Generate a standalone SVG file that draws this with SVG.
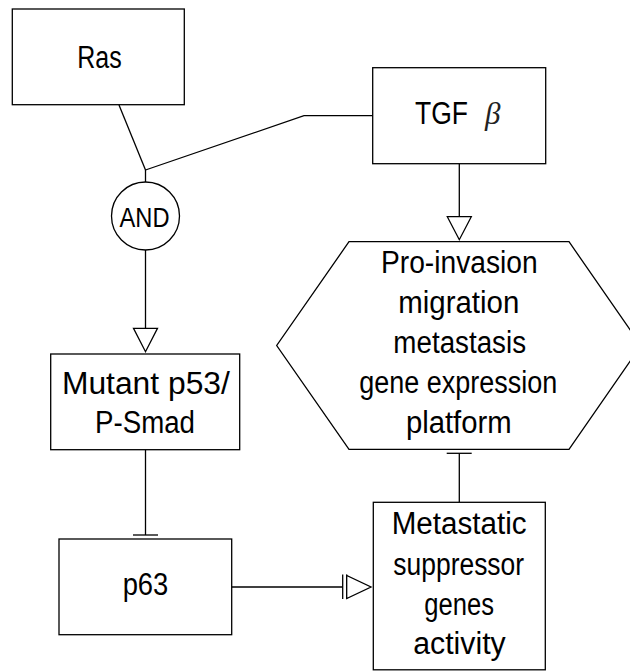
<svg xmlns="http://www.w3.org/2000/svg" width="630" height="671" viewBox="0 0 630 671">
  <style>
    .shape { fill: #ffffff; stroke: #000000; stroke-width: 1.3; }
    .edge { fill: none; stroke: #000000; stroke-width: 1.3; }
    .head { fill: #ffffff; stroke: #000000; stroke-width: 1.3; stroke-linejoin: miter; }
    .lbl { font-family: "Liberation Sans", Arial, sans-serif; font-size: 31px; fill: #000000; text-anchor: middle; }
    .greek { font-family: "Liberation Serif", "DejaVu Serif", serif; font-style: italic; font-size: 31px; fill: #222222; }
  </style>
  <rect width="630" height="671" fill="#ffffff"/>

  <g id="connectors">
    <path class="edge" d="M119 105 L145.5 170"/>
    <path class="edge" d="M372.7 115.7 L304 115.7 L145.5 170"/>
    <path class="edge" d="M145.5 170 L145.5 182"/>
    <path class="edge" d="M145.5 250 L145.5 328.3"/>
    <polygon class="head" points="133.5,328.3 157.5,328.3 145.5,351.7"/>
    <path class="edge" d="M459.3 163.7 L459.3 216.7"/>
    <polygon class="head" points="447.3,216.7 471.3,216.7 459.3,239.7"/>
    <path class="edge" d="M145.5 449.7 L145.5 535"/>
    <path class="edge" d="M133 535 L158 535"/>
    <path class="edge" d="M459.3 502.3 L459.3 453.3"/>
    <path class="edge" d="M446.7 453.3 L471.7 453.3"/>
    <path class="edge" d="M231.7 587 L342.7 587"/>
    <path class="edge" d="M342.7 574.5 L342.7 599 M346.7 574.5 L346.7 599"/>
    <polygon class="head" points="346.7,575.5 346.7,598.5 371,587"/>
  </g>

  <g id="ras">
    <rect class="shape" x="12.3" y="9" width="172" height="95.7"/>
    <text class="lbl" x="99.5" y="68.3" textLength="44.4" lengthAdjust="spacingAndGlyphs">Ras</text>
  </g>

  <g id="tgf">
    <rect class="shape" x="372.7" y="67.7" width="173" height="96"/>
    <text class="lbl" x="441.5" y="124.3" textLength="53" lengthAdjust="spacingAndGlyphs">TGF</text>
    <text class="greek" x="485" y="124.3">β</text>
  </g>

  <g id="and">
    <circle class="shape" cx="145.5" cy="216" r="34"/>
    <text class="lbl" x="144.5" y="227.3" style="font-size:28px" textLength="50" lengthAdjust="spacingAndGlyphs">AND</text>
  </g>

  <g id="platform">
    <polygon class="shape" points="349,241.7 569,241.7 641,345.5 569,449.3 349,449.3 276.7,345.5"/>
    <text class="lbl" x="459.3" y="273.3" textLength="156.7" lengthAdjust="spacingAndGlyphs">Pro-invasion</text>
    <text class="lbl" x="458.8" y="312.7" textLength="121" lengthAdjust="spacingAndGlyphs">migration</text>
    <text class="lbl" x="459.7" y="352.7" textLength="132.7" lengthAdjust="spacingAndGlyphs">metastasis</text>
    <text class="lbl" x="458.3" y="392.7" textLength="198" lengthAdjust="spacingAndGlyphs">gene expression</text>
    <text class="lbl" x="458.8" y="432.7" textLength="105.7" lengthAdjust="spacingAndGlyphs">platform</text>
  </g>

  <g id="mutant">
    <rect class="shape" x="50.7" y="354" width="189" height="95.7"/>
    <text class="lbl" x="145.9" y="394" textLength="168" lengthAdjust="spacingAndGlyphs">Mutant p53/</text>
    <text class="lbl" x="145" y="433.3" textLength="100" lengthAdjust="spacingAndGlyphs">P-Smad</text>
  </g>

  <g id="p63">
    <rect class="shape" x="59" y="539" width="172.7" height="95.7"/>
    <text class="lbl" x="145.5" y="595" textLength="45.7" lengthAdjust="spacingAndGlyphs">p63</text>
  </g>

  <g id="metastatic">
    <rect class="shape" x="373.3" y="502.3" width="172" height="167.5"/>
    <text class="lbl" x="459.2" y="534.3" textLength="135" lengthAdjust="spacingAndGlyphs">Metastatic</text>
    <text class="lbl" x="458.7" y="575" textLength="130.7" lengthAdjust="spacingAndGlyphs">suppressor</text>
    <text class="lbl" x="459.2" y="615" textLength="69.7" lengthAdjust="spacingAndGlyphs">genes</text>
    <text class="lbl" x="459.5" y="654.3" textLength="92.4" lengthAdjust="spacingAndGlyphs">activity</text>
  </g>
</svg>
